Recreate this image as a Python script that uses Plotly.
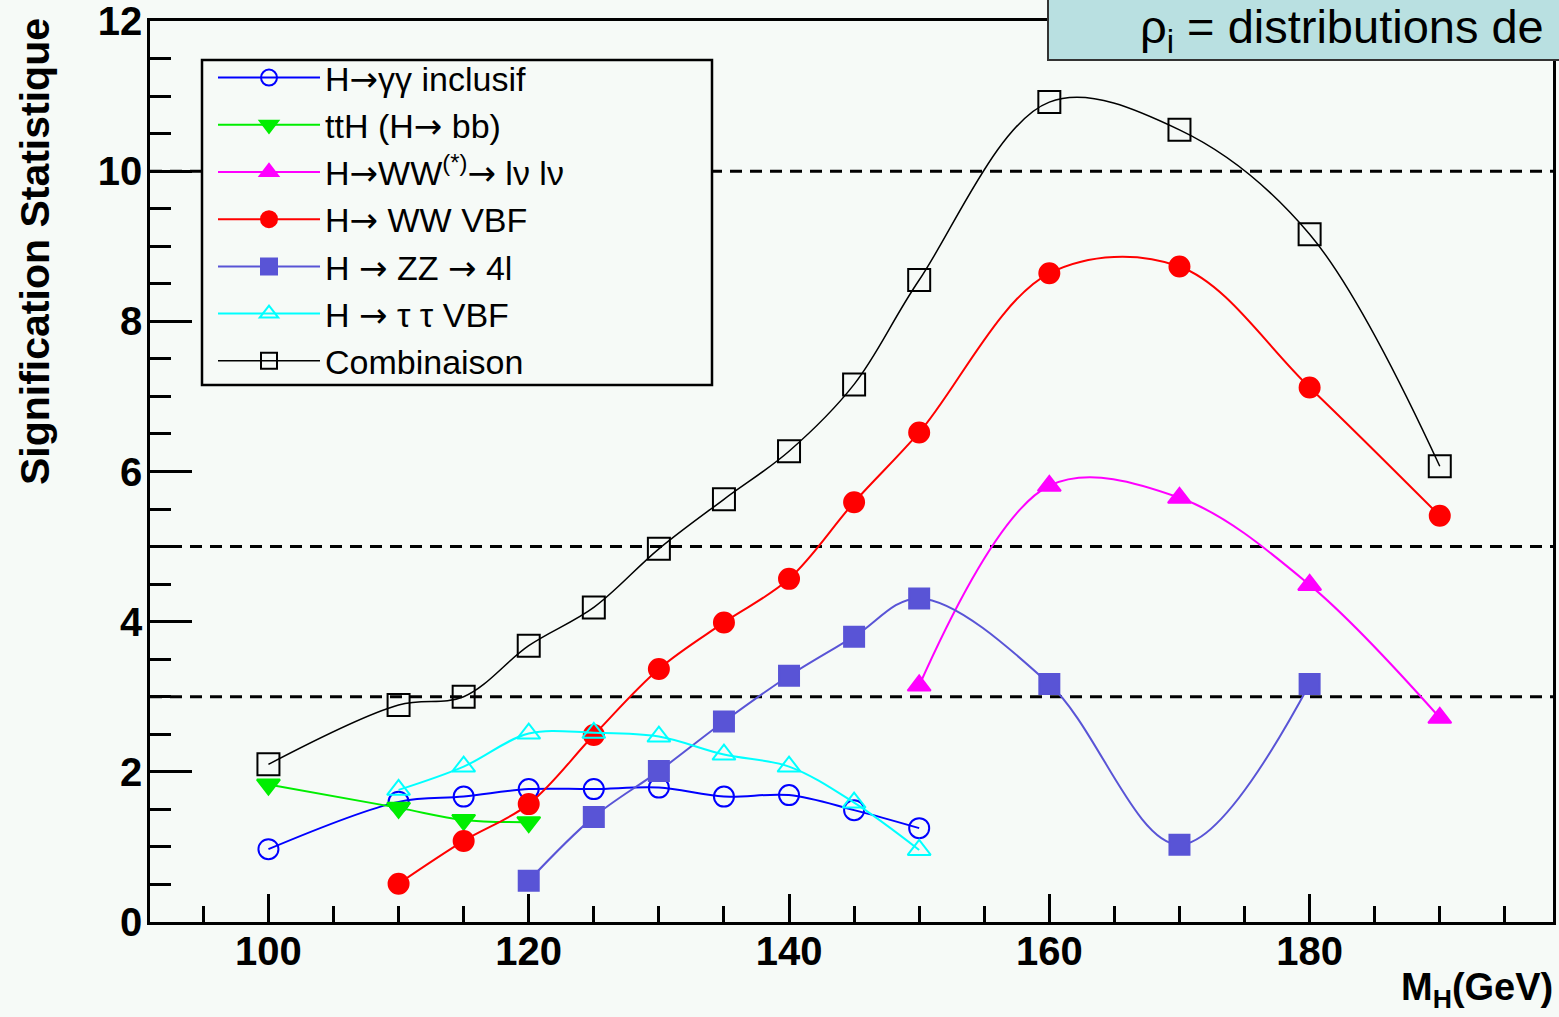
import plotly.graph_objects as go

# ---------------- data ----------------
mass_gg = [100, 110, 115, 120, 125, 130, 135, 140, 145, 150]
sig_gg = [0.97, 1.60, 1.67, 1.77, 1.77, 1.79, 1.67, 1.69, 1.49, 1.25]

mass_tth = [100, 110, 115, 120]
sig_tth = [1.83, 1.52, 1.36, 1.33]

mass_wwll = [150, 160, 170, 180, 190]
sig_wwll = [3.15, 5.81, 5.65, 4.49, 2.72]

mass_wwvbf = [110, 115, 120, 125, 130, 135, 140, 145, 150, 160, 170, 180, 190]
sig_wwvbf = [0.51, 1.08, 1.57, 2.49, 3.37, 3.99, 4.57, 5.59, 6.52, 8.64, 8.73, 7.12, 5.41]

mass_zz = [120, 125, 130, 135, 140, 145, 150, 160, 170, 180]
sig_zz = [0.55, 1.40, 2.01, 2.67, 3.28, 3.80, 4.31, 3.17, 1.03, 3.17]

mass_tautau = [110, 115, 120, 125, 130, 135, 140, 145, 150]
sig_tautau = [1.76, 2.07, 2.51, 2.52, 2.47, 2.23, 2.07, 1.59, 0.96]

mass_comb = [100, 110, 115, 120, 125, 130, 135, 140, 145, 150, 160, 170, 180, 190]
sig_comb = [2.10, 2.89, 3.00, 3.68, 4.19, 4.97, 5.63, 6.27, 7.16, 8.55, 10.92, 10.55, 9.16, 6.07]

ref_levels = [10, 5, 3]

ARW = "<span style=\"font-family:'DejaVu Sans'\">→</span>"
names = [
    f"H{ARW}γγ inclusif",
    f"ttH (H{ARW} bb)",
    f"H{ARW}WW<sup>(*)</sup>{ARW} lν lν",
    f"H{ARW} WW VBF",
    f"H {ARW} ZZ {ARW} 4l",
    f"H {ARW} τ τ VBF",
    "Combinaison",
]

x_ticks = [100, 120, 140, 160, 180]
y_ticks = [0, 2, 4, 6, 8, 10, 12]

BG = "#f6faf7"
FONT = "Liberation Sans, Arial, Helvetica, sans-serif"

# plot area in pixels: x 150..1553, y 21..922
L, R, T, B = 150, 1553, 21, 922
def px(xp):
    return (xp - L) / (R - L)
def py(yp):
    return (B - yp) / (B - T)

series = [
    (mass_gg, sig_gg, "#0000ff", "circle-open", 20, 2),
    (mass_tth, sig_tth, "#00ee00", "triangle-down", 20, 2),
    (mass_wwll, sig_wwll, "#ff00ff", "triangle-up", 20, 2),
    (mass_wwvbf, sig_wwvbf, "#ff0000", "circle", 20, 2),
    (mass_zz, sig_zz, "#5954d6", "square", 20, 2),
    (mass_tautau, sig_tautau, "#00ffff", "triangle-up-open", 20, 2),
    (mass_comb, sig_comb, "#000000", "square-open", 22, 1.5),
]

fig = go.Figure()
for (xs, ys, col, sym, sz, lw), nm in zip(series, names):
    fig.add_trace(go.Scatter(
        x=xs, y=ys, name=nm, mode="lines+markers",
        line=dict(color=col, width=lw, shape="spline", smoothing=1.0),
        marker=dict(symbol=sym, size=sz, color=col,
                    line=dict(color=col, width=2)),
    ))

for lv in ref_levels:
    fig.add_shape(type="line", xref="paper", x0=0, x1=1, yref="y", y0=lv, y1=lv,
                  line=dict(color="black", width=3, dash="12px,8px"), layer="below")

# legend frame
fig.add_shape(type="rect", xref="paper", yref="paper",
              x0=px(202), x1=px(712), y0=py(385), y1=py(60),
              fillcolor=BG, line=dict(color="black", width=2.5), layer="above")

# top-right overlay box
fig.add_shape(type="rect", xref="paper", yref="paper",
              x0=px(1048), x1=px(1575), y0=py(60), y1=py(-10),
              fillcolor="#b9e0e1", line=dict(color="#333333", width=2), layer="above")
fig.add_annotation(xref="paper", yref="paper", x=px(1546), y=py(30),
                   xanchor="right", yanchor="middle", showarrow=False,
                   text="ρ<sub>i</sub> = distributions de",
                   font=dict(family=FONT, size=47, color="black"))

# axis titles
fig.add_annotation(xref="paper", yref="paper", x=px(1555), y=py(990),
                   xanchor="right", yanchor="middle", showarrow=False,
                   text="M<sub>H</sub>(GeV)",
                   font=dict(family=FONT, size=38, color="black", weight="bold"))
fig.add_annotation(xref="paper", yref="paper", x=px(35), y=py(252),
                   xanchor="center", yanchor="middle", showarrow=False, textangle=-90,
                   text="Signification Statistique",
                   font=dict(family=FONT, size=41, color="black", weight="bold"))

fig.update_layout(
    width=1559, height=1017,
    margin=dict(l=L, r=1559 - R, t=T, b=1017 - B, autoexpand=False),
    paper_bgcolor=BG, plot_bgcolor=BG,
    font=dict(family=FONT, color="black"),
    showlegend=True,
    legend=dict(
        x=px(213), y=py(49), xanchor="left", yanchor="top",
        bgcolor="rgba(0,0,0,0)", borderwidth=0,
        font=dict(family=FONT, size=34, color="black"),
        itemwidth=102, tracegroupgap=0,
    ),
    xaxis=dict(
        range=[90.9, 198.7], tickmode="array", tickvals=x_ticks,
        ticktext=[str(v) for v in x_ticks], automargin=False,
        ticks="inside", ticklen=28, tickwidth=2.5, tickcolor="black",
        minor=dict(dtick=5, tick0=100, ticks="inside", ticklen=16, tickwidth=2.5, tickcolor="black"),
        showline=True, mirror=True, linewidth=2.5, linecolor="black",
        showgrid=False, zeroline=False, ticklabeloverflow="allow",
        ticklabelstandoff=-8,
        tickfont=dict(family=FONT, size=40, color="black", weight="bold"),
    ),
    yaxis=dict(
        range=[0, 12], tickmode="array", tickvals=y_ticks,
        ticktext=[str(v) for v in y_ticks], automargin=False,
        ticks="inside", ticklen=42, tickwidth=2.5, tickcolor="black",
        minor=dict(dtick=0.5, tick0=0, ticks="inside", ticklen=21, tickwidth=2.5, tickcolor="black"),
        showline=True, mirror=True, linewidth=2.5, linecolor="black",
        showgrid=False, zeroline=False, ticklabeloverflow="allow",
        ticklabelstandoff=-3,
        tickfont=dict(family=FONT, size=40, color="black", weight="bold"),
    ),
)

fig.write_html("out.html", config={"displayModeBar": False},
               post_script="document.body.style.margin='0';")
